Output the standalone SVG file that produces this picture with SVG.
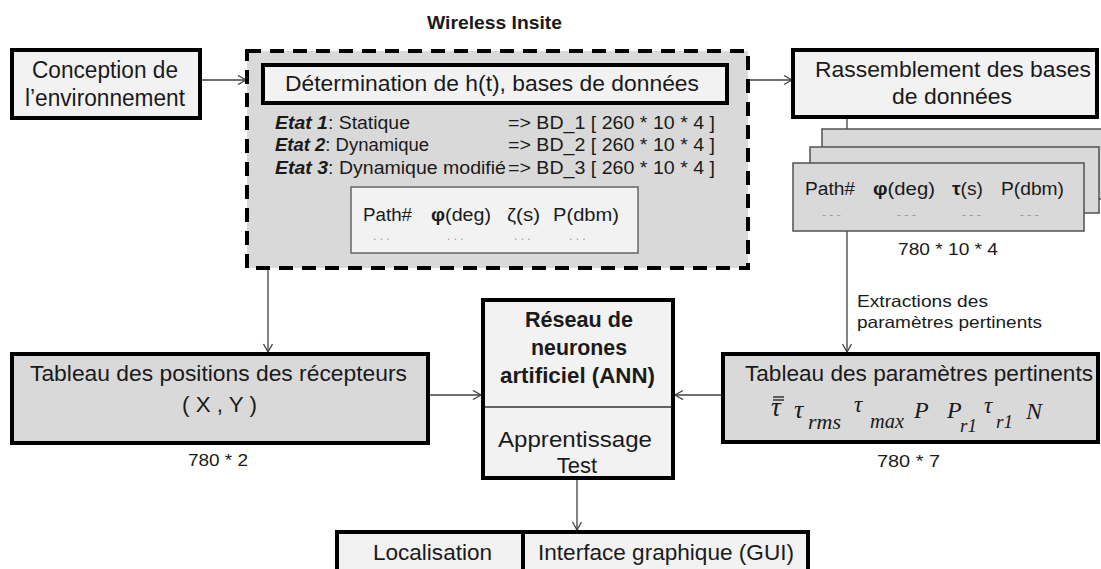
<svg xmlns="http://www.w3.org/2000/svg" width="1101" height="569" viewBox="0 0 1101 569">
<defs>
<marker id="arr" markerWidth="12" markerHeight="12" refX="9" refY="5" orient="auto" markerUnits="userSpaceOnUse">
<path d="M1,0.5 L9,5 L1,9.5" fill="none" stroke="#404040" stroke-width="1.3"/>
</marker>
<style>
.t{font-family:"Liberation Sans",Arial,sans-serif;fill:#1a1a1a}
.box{stroke:#000;stroke-width:4}
.lt{fill:#f2f2f2}
.dk{fill:#d9d9d9}
.card{fill:#d9d9d9;stroke:#505050;stroke-width:1.5}
.tbl{fill:#f2f2f2;stroke:#666;stroke-width:1.5}
.con{fill:none;stroke:#404040;stroke-width:1.3}
.m{font-family:"Liberation Serif","Times New Roman",serif;font-style:italic;fill:#1a1a1a}
.dots{font-family:"Liberation Sans",sans-serif;fill:#999;font-size:12px}
.b{font-weight:bold}
.bi{font-weight:bold;font-style:italic}
</style>
</defs>
<rect width="1101" height="569" fill="#fff"/>

<g id="connectors">
<path class="con" d="M200,80 H246" marker-end="url(#arr)"/>
<path class="con" d="M750,80 H792" marker-end="url(#arr)"/>
<path class="con" d="M268,270 V352" marker-end="url(#arr)"/>
<path class="con" d="M428,395 H481" marker-end="url(#arr)"/>
<path class="con" d="M723,395 H675" marker-end="url(#arr)"/>
<path class="con" d="M847,117 V129"/>
<path class="con" d="M847,231 V352" marker-end="url(#arr)"/>
<path class="con" d="M577,478 V530" marker-end="url(#arr)"/>
</g>

<g id="conception">
<rect class="box lt" x="12" y="50" width="188" height="68"/>
<text class="t" x="32" y="78" font-size="23" textLength="146" lengthAdjust="spacingAndGlyphs">Conception de</text>
<text class="t" x="25" y="106" font-size="23" textLength="160" lengthAdjust="spacingAndGlyphs">l’environnement</text>
</g>

<g id="wireless-insite">
<text class="t b" x="427" y="29" font-size="18" textLength="135" lengthAdjust="spacingAndGlyphs">Wireless Insite</text>
<rect x="247" y="51" width="501" height="217" fill="#d9d9d9" stroke="#000" stroke-width="4" stroke-dasharray="14 9"/>
</g>

<g id="determination">
<rect class="box lt" x="263" y="65" width="464" height="38"/>
<text class="t" x="285" y="91" font-size="21.5" textLength="414" lengthAdjust="spacingAndGlyphs">Détermination de h(t), bases de données</text>
</g>

<g id="etats">
<text class="t" x="275" y="129" font-size="17.5" textLength="135" lengthAdjust="spacingAndGlyphs"><tspan class="bi">Etat 1</tspan>: Statique</text>
<text class="t" x="508" y="129" font-size="17.5" textLength="207" lengthAdjust="spacingAndGlyphs">=&gt; BD_1 [ 260 * 10 * 4 ]</text>
<text class="t" x="275" y="151" font-size="17.5" textLength="154" lengthAdjust="spacingAndGlyphs"><tspan class="bi">Etat 2</tspan>: Dynamique</text>
<text class="t" x="508" y="151" font-size="17.5" textLength="207" lengthAdjust="spacingAndGlyphs">=&gt; BD_2 [ 260 * 10 * 4 ]</text>
<text class="t" x="275" y="174" font-size="17.5" textLength="231" lengthAdjust="spacingAndGlyphs"><tspan class="bi">Etat 3</tspan>: Dynamique modifié</text>
<text class="t" x="508" y="174" font-size="17.5" textLength="207" lengthAdjust="spacingAndGlyphs">=&gt; BD_3 [ 260 * 10 * 4 ]</text>
</g>

<g id="table-h">
<rect class="tbl" x="351" y="187" width="287" height="66"/>
<text class="t" x="363" y="221" font-size="18" textLength="49" lengthAdjust="spacingAndGlyphs">Path#</text>
<text class="t" x="431" y="221" font-size="18" textLength="60" lengthAdjust="spacingAndGlyphs"><tspan class="b">φ</tspan>(deg)</text>
<text class="t" x="507" y="221" font-size="18" textLength="33" lengthAdjust="spacingAndGlyphs">ζ(s)</text>
<text class="t" x="553" y="221" font-size="18" textLength="66" lengthAdjust="spacingAndGlyphs">P(dbm)</text>
<text class="dots" x="373" y="240">. . .</text>
<text class="dots" x="447" y="240">. . .</text>
<text class="dots" x="514" y="240">. . .</text>
<text class="dots" x="569" y="240">. . .</text>
</g>

<g id="rassemblement">
<rect class="box lt" x="793" y="50" width="304" height="67"/>
<text class="t" x="815" y="77" font-size="22" textLength="276" lengthAdjust="spacingAndGlyphs">Rassemblement des bases</text>
<text class="t" x="892" y="104" font-size="22" textLength="120" lengthAdjust="spacingAndGlyphs">de données</text>
</g>

<g id="cards">
<rect class="card" x="822" y="129" width="290" height="70"/>
<rect class="card" x="810" y="147" width="289" height="66"/>
<rect class="card" x="793" y="163" width="291" height="68"/>
<text class="t" x="805" y="195" font-size="18" textLength="50" lengthAdjust="spacingAndGlyphs">Path#</text>
<text class="t" x="873" y="195" font-size="18" textLength="62" lengthAdjust="spacingAndGlyphs"><tspan class="b">φ</tspan>(deg)</text>
<text class="t" x="952" y="195" font-size="18" textLength="31" lengthAdjust="spacingAndGlyphs"><tspan class="b">τ</tspan>(s)</text>
<text class="t" x="1001" y="195" font-size="18" textLength="63" lengthAdjust="spacingAndGlyphs">P(dbm)</text>
<text class="dots" x="822" y="219">- - -</text>
<text class="dots" x="897" y="219">- - -</text>
<text class="dots" x="962" y="219">- - -</text>
<text class="dots" x="1020" y="219">- - -</text>
<text class="t" x="898" y="255" font-size="17" textLength="100" lengthAdjust="spacingAndGlyphs">780 * 10 * 4</text>
</g>

<g id="extraction-label">
<text class="t" x="857" y="307" font-size="16.5" textLength="131" lengthAdjust="spacingAndGlyphs">Extractions des</text>
<text class="t" x="857" y="328" font-size="16.5" textLength="185" lengthAdjust="spacingAndGlyphs">paramètres pertinents</text>
</g>

<g id="positions">
<rect class="box dk" x="12" y="354" width="416" height="89"/>
<text class="t" x="30" y="381" font-size="22" textLength="377" lengthAdjust="spacingAndGlyphs">Tableau des positions des récepteurs</text>
<text class="t" x="182" y="412" font-size="22" textLength="75" lengthAdjust="spacingAndGlyphs">( X , Y )</text>
<text class="t" x="188" y="466" font-size="16.5" textLength="60" lengthAdjust="spacingAndGlyphs">780 * 2</text>
</g>

<g id="ann">
<rect class="box lt" x="483" y="300" width="190" height="178"/>
<line x1="485" y1="407" x2="671" y2="407" stroke="#333" stroke-width="1.5"/>
<text class="t b" x="525" y="327" font-size="21.5" textLength="108" lengthAdjust="spacingAndGlyphs">Réseau de</text>
<text class="t b" x="531" y="355" font-size="21.5" textLength="96" lengthAdjust="spacingAndGlyphs">neurones</text>
<text class="t b" x="500" y="383" font-size="21.5" textLength="155" lengthAdjust="spacingAndGlyphs">artificiel (ANN)</text>
<text class="t" x="498" y="447" font-size="22" textLength="154" lengthAdjust="spacingAndGlyphs">Apprentissage</text>
<text class="t" x="577" y="473" font-size="22" text-anchor="middle">Test</text>
</g>

<g id="parametres">
<rect class="box dk" x="723" y="354" width="375" height="88"/>
<text class="t" x="745" y="381" font-size="22" textLength="348" lengthAdjust="spacingAndGlyphs">Tableau des paramètres pertinents</text>
<text class="m" x="771" y="416" font-size="27">τ</text>
<line x1="773" y1="397" x2="784" y2="397" stroke="#1a1a1a" stroke-width="1.3"/>
<line x1="773" y1="400" x2="784" y2="400" stroke="#1a1a1a" stroke-width="1.3"/>
<text class="m" x="794" y="418" font-size="26">τ</text>
<text class="m" x="808" y="429" font-size="21" textLength="33" lengthAdjust="spacingAndGlyphs">rms</text>
<text class="m" x="854" y="412" font-size="23">τ</text>
<text class="m" x="870" y="428" font-size="21" textLength="34" lengthAdjust="spacingAndGlyphs">max</text>
<text class="m" x="914" y="418" font-size="24">P</text>
<text class="m" x="947" y="418" font-size="24">P</text>
<text class="m" x="960" y="432" font-size="19">r1</text>
<text class="m" x="984" y="413" font-size="23">τ</text>
<text class="m" x="996" y="428" font-size="19">r1</text>
<text class="m" x="1026" y="419" font-size="24">N</text>
<text class="t" x="877" y="467" font-size="16.5" textLength="63" lengthAdjust="spacingAndGlyphs">780 * 7</text>
</g>

<g id="localisation">
<rect class="box lt" x="337" y="532" width="471" height="50"/>
<line x1="523" y1="532" x2="523" y2="569" stroke="#000" stroke-width="4"/>
<text class="t" x="373" y="560" font-size="22" textLength="119" lengthAdjust="spacingAndGlyphs">Localisation</text>
<text class="t" x="538" y="560" font-size="22" textLength="256" lengthAdjust="spacingAndGlyphs">Interface graphique (GUI)</text>
</g>
</svg>
